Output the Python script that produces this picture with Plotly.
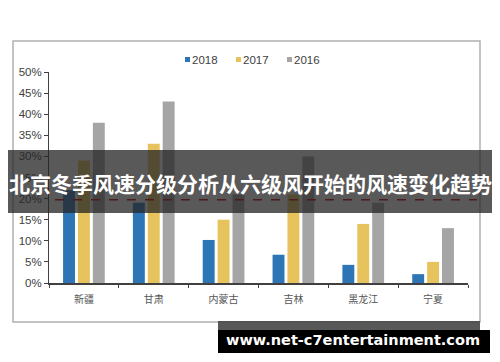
import plotly.graph_objects as go

categories = ["新疆", "甘肃", "内蒙古", "吉林", "黑龙江", "宁夏"]
series_names = ["2018", "2017", "2016"]
values_2018 = [0.22, 0.19, 0.102, 0.067, 0.043, 0.021]
values_2017 = [0.29, 0.33, 0.15, 0.21, 0.14, 0.05]
values_2016 = [0.38, 0.43, 0.21, 0.30, 0.19, 0.13]
y_ticks = [0, 0.05, 0.10, 0.15, 0.20, 0.25, 0.30, 0.35, 0.40, 0.45, 0.50]
ref_line_value = 0.197
title_text = "北京冬季风速分级分析从六级风开始的风速变化趋势"
watermark_text = "www.net-c7entertainment.com"

colors = ["#2E75B6", "#E6C35C", "#A5A5A5"]

# page has an 8px body margin; size the figure to fit the 500x362 window
OFF = 8
W, H = 500 - OFF, 362 - OFF
PLOT_L, PLOT_R, PLOT_T, PLOT_B = 49, 468, 72, 283   # screen pixels of the plot area
L, T = PLOT_L - OFF, PLOT_T - OFF
R, B = W - (PLOT_R - OFF), H - (PLOT_B - OFF)
PW, PH = PLOT_R - PLOT_L, PLOT_B - PLOT_T


def X(px):
    return (px - PLOT_L) / PW


def Y(py):
    return (PLOT_B - py) / PH


fig = go.Figure()
for name, vals, col in zip(series_names, [values_2018, values_2017, values_2016], colors):
    fig.add_trace(go.Bar(name=name, x=categories, y=vals, marker_color=col,
                         marker_line_width=0, showlegend=False))

shapes = []
annotations = []

# outer chart border
shapes.append(dict(type="rect", xref="paper", yref="paper",
                   x0=X(13), x1=X(480), y0=Y(322), y1=Y(41),
                   line=dict(color="#B0B0B0", width=1.5), fillcolor="rgba(0,0,0,0)", layer="below"))

# legend (manual, compact like the original)
legend_x = [185, 236, 287]
for nm, col, lx in zip(series_names, colors, legend_x):
    shapes.append(dict(type="rect", xref="paper", yref="paper",
                       x0=X(lx), x1=X(lx + 5), y0=Y(62), y1=Y(57),
                       fillcolor=col, line=dict(width=0)))
    annotations.append(dict(xref="paper", yref="paper", x=X(lx + 5), y=Y(59.5),
                            text=nm, showarrow=False, xanchor="left", yanchor="middle",
                            font=dict(family="Liberation Sans, Arial", size=11.5, color="#404040")))

# red dashed reference line
shapes.append(dict(type="line", xref="paper", yref="y",
                   x0=X(55), x1=X(477), y0=ref_line_value, y1=ref_line_value,
                   line=dict(color="#C00000", width=1.5, dash="dash")))

# dark banner with title
shapes.append(dict(type="rect", xref="paper", yref="paper",
                   x0=X(8), x1=X(492), y0=Y(213), y1=Y(150),
                   fillcolor="rgba(37,37,37,0.76)", line=dict(width=0)))
annotations.append(dict(xref="paper", yref="paper", x=X(250), y=Y(183),
                        text="<b>" + title_text + "</b>", showarrow=False,
                        xanchor="center", yanchor="middle",
                        font=dict(family="Noto Sans CJK SC", size=21, color="white")))

# watermark
shapes.append(dict(type="rect", xref="paper", yref="paper",
                   x0=X(218), x1=X(480), y0=Y(330), y1=Y(321),
                   fillcolor="rgba(70,70,70,0.9)", line=dict(width=0)))
shapes.append(dict(type="rect", xref="paper", yref="paper",
                   x0=X(218), x1=X(490), y0=Y(353), y1=Y(330),
                   fillcolor="#000000", line=dict(width=0)))
annotations.append(dict(xref="paper", yref="paper", x=X(353), y=Y(340),
                        text="<b>" + watermark_text + "</b>", showarrow=False,
                        xanchor="center", yanchor="middle",
                        font=dict(family="DejaVu Sans", size=14.5, color="white")))

fig.update_layout(
    width=W, height=H, autosize=False,
    margin=dict(l=L, r=R, t=T, b=B, pad=0),
    paper_bgcolor="white", plot_bgcolor="white",
    barmode="group", bargap=0.36, bargroupgap=0.2,
    shapes=shapes, annotations=annotations,
    showlegend=False,
)
fig.update_yaxes(range=[0, 0.5], tickvals=y_ticks, tickformat=".0%",
                 showgrid=False, zeroline=False, showline=True, linecolor="#404040", linewidth=1,
                 ticks="outside", ticklen=4, tickcolor="#404040",
                 tickfont=dict(family="Liberation Sans, Arial", size=11.5, color="#404040"))
fig.update_xaxes(showgrid=False, showline=True, linecolor="#404040", linewidth=1.5,
                 ticks="outside", tickson="boundaries", ticklen=3, tickcolor="#404040",
                 ticklabelstandoff=6,
                 tickfont=dict(family="Noto Sans CJK SC", size=10, color="#555555"))

fig.write_html("out.html")
